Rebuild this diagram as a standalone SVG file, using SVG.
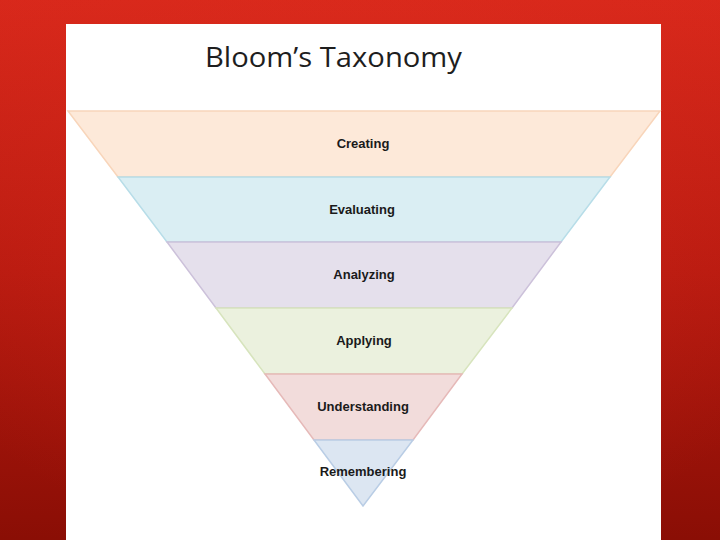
<svg xmlns="http://www.w3.org/2000/svg" width="720" height="540" viewBox="0 0 720 540">
<defs>
<linearGradient id="bg" x1="0" y1="0" x2="0" y2="1">
<stop offset="0" stop-color="#D8281B"/>
<stop offset="0.5" stop-color="#B81A10"/>
<stop offset="1" stop-color="#8A0E05"/>
</linearGradient>
<radialGradient id="glow" cx="0.5" cy="0.35" r="0.7">
<stop offset="0" stop-color="#E0301F" stop-opacity="0.35"/>
<stop offset="1" stop-color="#E0301F" stop-opacity="0"/>
</radialGradient>
</defs>
<style>
.lbl{font-family:"Liberation Sans",Arial,sans-serif;font-weight:bold;font-size:13px;fill:#1a1a1a;text-anchor:middle}
.title{font-family:"Open Sans","Liberation Sans",sans-serif;font-size:28px;fill:#1e1e1e}
.band{stroke-width:1.5}
</style>
<rect x="0" y="0" width="720" height="540" fill="url(#bg)"/>
<rect x="0" y="0" width="720" height="540" fill="url(#glow)"/>
<rect x="66" y="24" width="595" height="516" fill="#ffffff"/>
<text class="title" x="205" y="67" textLength="257" lengthAdjust="spacingAndGlyphs">Bloom’s Taxonomy</text>
<g id="creating">
<polygon class="band" points="68,111 660,111 610,177 118,177" fill="#FDE9D9" stroke="#F8D5BA"/>
<text class="lbl" x="363" y="148">Creating</text>
</g>
<g id="evaluating">
<polygon class="band" points="118,177 610,177 561,242 167,242" fill="#DAEEF3" stroke="#B7DDE8"/>
<text class="lbl" x="362" y="214">Evaluating</text>
</g>
<g id="analyzing">
<polygon class="band" points="167,242 561,242 512,308 216,308" fill="#E5E0EC" stroke="#CCC1DA"/>
<text class="lbl" x="364" y="279">Analyzing</text>
</g>
<g id="applying">
<polygon class="band" points="216,308 512,308 462,374 265,374" fill="#EBF1DE" stroke="#D7E4BD"/>
<text class="lbl" x="364" y="345">Applying</text>
</g>
<g id="understanding">
<polygon class="band" points="265,374 462,374 413,440 314,440" fill="#F2DCDB" stroke="#E6B9B8"/>
<text class="lbl" x="363" y="411">Understanding</text>
</g>
<g id="remembering">
<polygon class="band" points="314,440 413,440 363,506" fill="#DCE6F2" stroke="#B9CDE5"/>
<text class="lbl" x="363" y="476">Remembering</text>
</g>
</svg>
